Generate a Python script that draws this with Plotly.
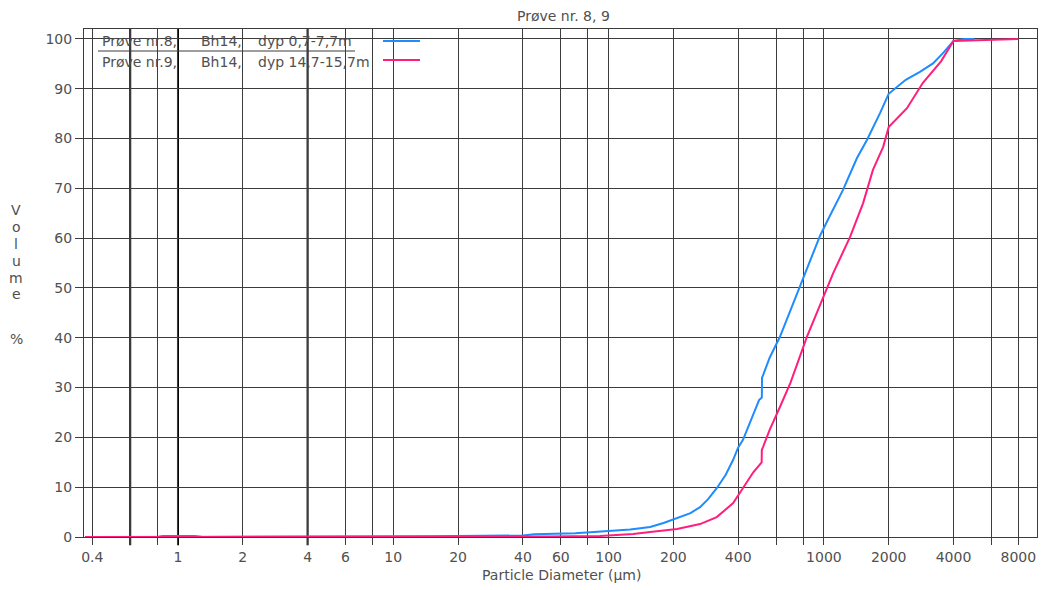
import plotly.graph_objects as go
import math

# ---- data ----
blue_d = [0.37, 0.8, 0.85, 1.2, 1.3, 14, 15, 40, 45, 70, 90, 100, 126, 156, 180, 208, 240, 266,
          290, 318, 350, 379, 400, 421, 460, 500, 515, 516, 522, 560, 625, 700, 774, 834, 960,
          1033, 1227, 1425, 1585, 1823, 2000, 2400, 2794, 3213, 3600, 4000, 4500, 5000]
blue_v = [0.0, 0.0, 0.2, 0.2, 0.0, 0.0, 0.15, 0.3, 0.55, 0.75, 1.0, 1.2, 1.5, 2.0, 2.8, 3.8, 4.8, 6.0,
          7.6, 9.8, 12.5, 15.5, 18.0, 19.5, 23.5, 27.5, 28.0, 32.0, 32.5, 36.0, 40.2, 45.5, 50.5, 54.0, 60.5,
          63.3, 69.7, 76.1, 79.7, 85.1, 89.0, 91.8, 93.4, 95.1, 97.3, 99.6, 100.0, 100.0]

pink_d = [0.37, 14, 53, 91, 130, 156, 208, 266, 318, 379, 421, 470, 514, 515, 522, 560, 625, 700,
          834, 1033, 1067, 1105, 1322, 1520, 1690, 1884, 2000, 2432, 2884, 3500, 4000, 8000]
pink_v = [0.0, 0.0, 0.1, 0.2, 0.6, 1.0, 1.6, 2.6, 4.0, 6.8, 9.8, 13.0, 15.0, 17.5, 18.1, 21.5, 26.1, 31.0,
          40.2, 50.0, 51.6, 53.0, 60.2, 67.0, 73.7, 78.3, 82.3, 86.1, 91.2, 95.5, 99.6, 100.0]

grid_x = [0.4, 0.6, 0.8, 1, 2, 4, 6, 8, 10, 20, 40, 60, 80, 100, 200, 400, 600, 800,
          1000, 2000, 4000, 6000, 8000]
labelled_x = [0.4, 1, 2, 4, 6, 10, 20, 40, 60, 100, 200, 400, 1000, 2000, 4000, 8000]
emphasised_x = [0.6, 1, 4]
y_ticks = list(range(0, 101, 10))

title_text = "Prøve nr. 8, 9"
x_title = "Particle Diameter (µm)"
y_title_letters = ["V", "o", "l", "u", "m", "e", "%"]
legend_rows = [
    ["Prøve nr.8,", "Bh14,", "dyp 0,7-7,7m"],
    ["Prøve nr.9,", "Bh14,", "dyp 14,7-15,7m"],
]

BLUE = "#1E8CFF"
PINK = "#FF1E7D"
GRID = "#3c3c3c"
TXT = "#505050"
FONT = "DejaVu Sans, Liberation Sans, Arial"

# page has an 8px body margin; figure sized to fit the 1047x590 window exactly
OFF = 8
W, H = 1047 - OFF, 590 - OFF
# plot area in window pixels
PL, PR, PT, PB = 84, 1037, 29, 537
PW, PH = PR - PL, PB - PT


def px(xpix):
    return (xpix - PL) / PW


def py(ypix):
    return (PB - ypix) / PH


def fmt(v):
    return ("%g" % v)


fig = go.Figure()
fig.add_trace(go.Scatter(x=blue_d, y=blue_v, mode="lines",
                         line=dict(color=BLUE, width=2), showlegend=False))
fig.add_trace(go.Scatter(x=pink_d, y=pink_v, mode="lines",
                         line=dict(color=PINK, width=2), showlegend=False))

shapes = []
for xv in emphasised_x:
    shapes.append(dict(type="line", xref="x", yref="paper", x0=xv, x1=xv, y0=-0.016, y1=1,
                       line=dict(color="#000000", width=2), layer="below"))

annotations = []
annotations.append(dict(text=title_text, x=px(563), y=py(16), xref="paper", yref="paper",
                        showarrow=False, xanchor="center", yanchor="middle",
                        font=dict(family=FONT, size=14, color=TXT)))

# vertical y-axis title, one letter per line
letter_y = [210, 227, 244, 261, 278, 294, 339]
for ch, yy in zip(y_title_letters, letter_y):
    annotations.append(dict(text=ch, x=px(16), y=py(yy), xref="paper", yref="paper",
                            showarrow=False, xanchor="center", yanchor="middle",
                            font=dict(family=FONT, size=14, color=TXT)))

# legend drawn as text + line samples (sample to the right of text)
row_y = [41, 62]
col_x = [100, 199, 256]
for r, row in enumerate(legend_rows):
    for c, txt in enumerate(row):
        annotations.append(dict(text=txt, x=px(col_x[c]), y=py(row_y[r]), xref="paper", yref="paper",
                                showarrow=False, xanchor="left", yanchor="middle",
                                font=dict(family=FONT, size=14, color=TXT)))
sample_y = [41, 60]
for colr, sy in zip([BLUE, PINK], sample_y):
    shapes.append(dict(type="line", xref="paper", yref="paper", x0=px(383), x1=px(420),
                       y0=py(sy), y1=py(sy), line=dict(color=colr, width=2)))
shapes.append(dict(type="line", xref="paper", yref="paper", x0=px(98), x1=px(355),
                   y0=py(51), y1=py(51), line=dict(color=GRID, width=1)))

annotations.append(dict(text=x_title, x=px(561), y=py(575), xref="paper", yref="paper",
                        showarrow=False, xanchor="center", yanchor="middle",
                        font=dict(family=FONT, size=14, color=TXT)))

fig.update_layout(
    width=W, height=H,
    margin=dict(l=PL - OFF, r=W - (PR - OFF), t=PT - OFF, b=H - (PB - OFF), autoexpand=False),
    paper_bgcolor="white", plot_bgcolor="white",
    font=dict(family=FONT, size=14, color=TXT),
    shapes=shapes, annotations=annotations,
    showlegend=False,
)

fig.update_xaxes(
    type="log",
    range=[math.log10(0.366), math.log10(9770)],
    tickmode="array",
    tickvals=grid_x,
    ticktext=[fmt(v) if v in labelled_x else "" for v in grid_x],
    ticks="outside", ticklen=7, tickcolor=GRID, tickwidth=1,
    showgrid=True, gridcolor=GRID, gridwidth=1,
    showline=True, linecolor=GRID, linewidth=1, mirror=True,
    zeroline=False, automargin=False,
    tickfont=dict(family=FONT, size=14, color=TXT),
)
fig.update_yaxes(
    range=[0, 102],
    tickmode="array", tickvals=y_ticks,
    ticks="outside", ticklen=8, tickcolor=GRID, tickwidth=1,
    showgrid=True, gridcolor=GRID, gridwidth=1,
    showline=True, linecolor=GRID, linewidth=1, mirror=True,
    zeroline=False, automargin=False,
    tickfont=dict(family=FONT, size=14, color=TXT),
)

fig.write_html("out.html")
